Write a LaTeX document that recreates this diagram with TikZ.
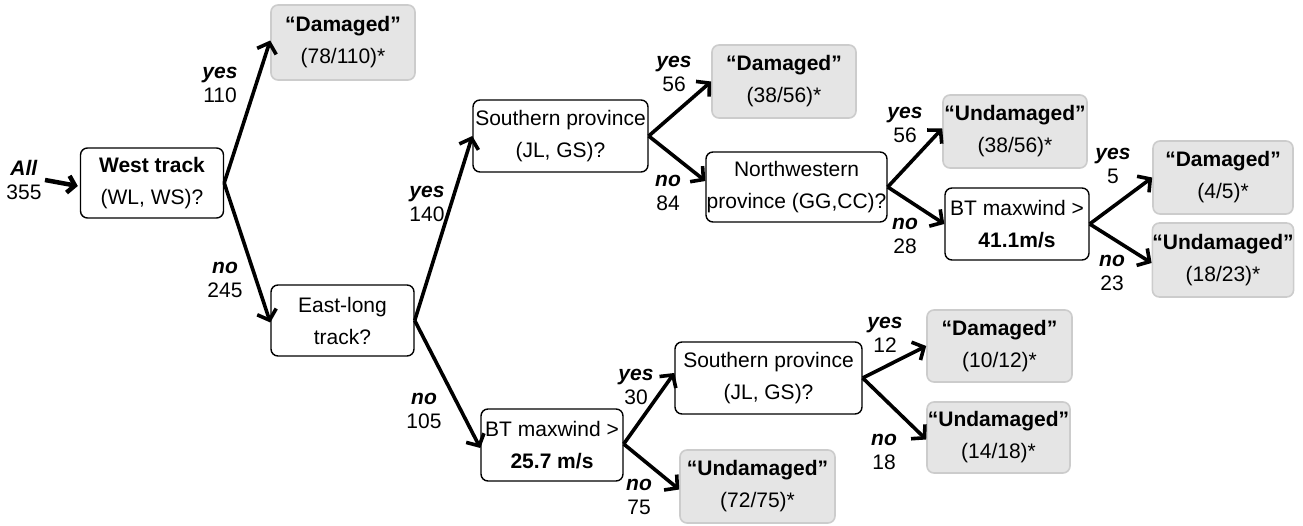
\documentclass[tikz,border=0pt]{standalone}
\usepackage{fontspec}
\setmainfont{Liberation Sans}
\usetikzlibrary{arrows.meta}
\begin{document}
\begin{tikzpicture}[x=1pt,y=-1pt,
  every node/.style={font=\fontsize{21}{32}\selectfont, align=center, inner sep=0pt},
  dec/.style={draw=black, line width=1.4pt, rounded corners=7pt, fill=white},
  leaf/.style={draw=gray!40, line width=1.6pt, rounded corners=7pt, fill=gray!20},
  lbl/.style={font=\fontsize{21}{24}\selectfont},
  arr/.style={line width=3.6pt, -{Straight Barb[length=9pt,width=20pt]}}]
\useasboundingbox (0,0) rectangle (1303,526);

% decision nodes
\node[dec, minimum width=143pt, minimum height=70pt] (west) at (152,183) {\textbf{West track}\\(WL, WS)?};
\node[dec, minimum width=143pt, minimum height=71pt] (east) at (342.5,320.5) {East-long\\track?};
\node[dec, minimum width=175pt, minimum height=72pt] (sp1) at (560.5,136) {Southern province\\(JL, GS)?};
\node[dec, minimum width=181pt, minimum height=70pt] (nw) at (796.5,187) {Northwestern\\province (GG,CC)?};
\node[dec, minimum width=144pt, minimum height=72pt] (bt41) at (1017,224) {BT maxwind >\\\textbf{41.1m/s}};
\node[dec, minimum width=142pt, minimum height=72pt] (bt25) at (552,445) {BT maxwind >\\\textbf{25.7 m/s}};
\node[dec, minimum width=187pt, minimum height=72pt] (sp2) at (768.5,378) {Southern province\\(JL, GS)?};

% leaves
\node[leaf, minimum width=144pt, minimum height=75pt] (l1) at (343,42.5) {\textbf{“Damaged”}\\(78/110)*};
\node[leaf, minimum width=144pt, minimum height=73pt] (l2) at (784,81.5) {\textbf{“Damaged”}\\(38/56)*};
\node[leaf, minimum width=144pt, minimum height=73pt] (l3) at (1015,131.5) {\textbf{“Undamaged”}\\(38/56)*};
\node[leaf, minimum width=140pt, minimum height=73pt] (l4) at (1223,177.5) {\textbf{“Damaged”}\\(4/5)*};
\node[leaf, minimum width=140pt, minimum height=74pt] (l5) at (1223,260) {\textbf{“Undamaged”}\\(18/23)*};
\node[leaf, minimum width=145pt, minimum height=72pt] (l6) at (999.5,346) {\textbf{“Damaged”}\\(10/12)*};
\node[leaf, minimum width=143pt, minimum height=71pt] (l7) at (998.5,437.5) {\textbf{“Undamaged”}\\(14/18)*};
\node[leaf, minimum width=155pt, minimum height=73pt] (l8) at (757.5,486.5) {\textbf{“Undamaged”}\\(72/75)*};

% labels
\node[lbl] (tall) at (24,180) {\textbf{\textit{All}}\\355};
\node[lbl] (ty1) at (220,85) {\textbf{\textit{yes}}\\110};
\node[lbl] (tn1) at (225,280) {\textbf{\textit{no}}\\245};
\node[lbl] (ty2) at (427,204) {\textbf{\textit{yes}}\\140};
\node[lbl] (tn2) at (424,411) {\textbf{\textit{no}}\\105};
\node[lbl] (ty3) at (674,74) {\textbf{\textit{yes}}\\56};
\node[lbl] (tn3) at (668,193) {\textbf{\textit{no}}\\84};
\node[lbl] (ty4) at (905,125) {\textbf{\textit{yes}}\\56};
\node[lbl] (tn4) at (905,236) {\textbf{\textit{no}}\\28};
\node[lbl] (ty5) at (1113,166) {\textbf{\textit{yes}}\\5};
\node[lbl] (tn5) at (1112,273) {\textbf{\textit{no}}\\23};
\node[lbl] (ty6) at (636,387) {\textbf{\textit{yes}}\\30};
\node[lbl] (tn6) at (639,497) {\textbf{\textit{no}}\\75};
\node[lbl] (ty7) at (885,335) {\textbf{\textit{yes}}\\12};
\node[lbl] (tn7) at (884,452) {\textbf{\textit{no}}\\18};

% connectors
\coordinate (allstart) at (45,180);
\draw[arr, line width=4.5pt, -{Straight Barb[length=7pt,width=17pt]}] (allstart) -- ([xshift=-2pt,yshift=-3pt]west.west);
\draw[arr] (west.east) -- ([yshift=2pt]l1.west);
\draw[arr] (west.east) -- ([yshift=-2pt]east.west);
\draw[arr] (east.east) -- (sp1.west);
\draw[arr] (east.east) -- ([yshift=-3pt]bt25.west);
\draw[arr] (sp1.east) -- (l2.west);
\draw[arr] (sp1.east) -- ([yshift=6pt]nw.west);
\draw[arr] (nw.east) -- ([yshift=3pt]l3.west);
\draw[arr] (nw.east) -- (bt41.west);
\draw[arr] (bt41.east) -- (l4.west);
\draw[arr] (bt41.east) -- ([yshift=-3pt]l5.west);
\draw[arr] ([yshift=1pt]bt25.east) -- ([yshift=5pt]sp2.west);
\draw[arr] ([yshift=1pt]bt25.east) -- ([yshift=-3pt]l8.west);
\draw[arr] (sp2.east) -- (l6.west);
\draw[arr] (sp2.east) -- ([yshift=-2pt]l7.west);
\end{tikzpicture}
\end{document}
